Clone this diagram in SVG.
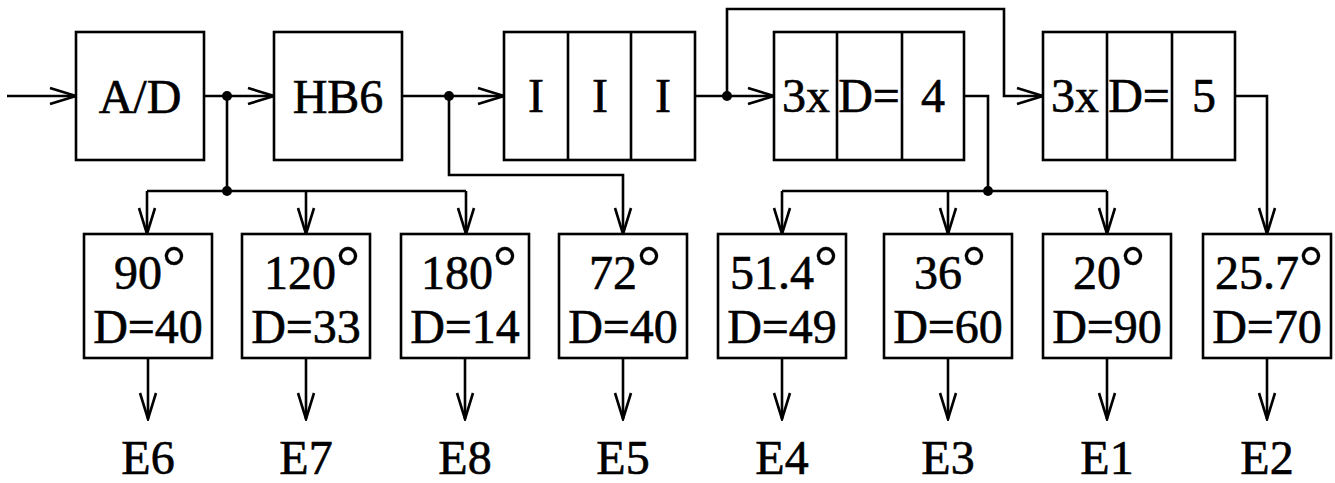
<svg xmlns="http://www.w3.org/2000/svg" width="1335" height="483" viewBox="0 0 1335 483">
<style>
.box{fill:#fff;stroke:#000;stroke-width:2.6}
.ln{fill:none;stroke:#000;stroke-width:2.6}
.arr{fill:none;stroke:#000;stroke-width:2.6;marker-end:url(#ah)}
.t{font-family:"Liberation Serif","Times New Roman",serif;font-size:48px;fill:#000;stroke:#000;stroke-width:0.6;text-anchor:middle}
.deg{font-size:60px;stroke-width:0.3}
.dot{fill:#000}
</style>
<defs>
<marker id="ah" markerUnits="userSpaceOnUse" markerWidth="30" markerHeight="20" viewBox="-28 -10 30 20" refX="0" refY="0" orient="auto">
<path d="M-26,-8 L0,0 L-26,8" fill="none" stroke="#000" stroke-width="2.6"/>
</marker>
</defs>
<rect width="1335" height="483" fill="#fff"/>
<g id="connectors">
<path class="arr" d="M7,96 H76"/>
<path class="arr" d="M204,96 H274"/>
<path class="ln" d="M227,96 V191"/>
<path class="ln" d="M147,191 H466"/>
<path class="arr" d="M147,191 V234"/>
<path class="arr" d="M306,191 V234"/>
<path class="arr" d="M466,191 V234"/>
<path class="arr" d="M402,96 H504"/>
<path class="arr" d="M449,96 V175 H623 V234"/>
<path class="arr" d="M695,96 H774"/>
<path class="arr" d="M727,96 V9 H1004 V96 H1043"/>
<path class="ln" d="M964,96 H988 V191"/>
<path class="ln" d="M782,191 H1107"/>
<path class="arr" d="M782,191 V234"/>
<path class="arr" d="M948,191 V234"/>
<path class="arr" d="M1107,191 V234"/>
<path class="arr" d="M1235,96 H1267 V234"/>
<path class="arr" d="M148,358 V419"/>
<path class="arr" d="M306,358 V419"/>
<path class="arr" d="M465,358 V419"/>
<path class="arr" d="M623,358 V419"/>
<path class="arr" d="M782,358 V419"/>
<path class="arr" d="M948,358 V419"/>
<path class="arr" d="M1107,358 V419"/>
<path class="arr" d="M1267,358 V419"/>
<circle class="dot" cx="227" cy="96" r="5"/>
<circle class="dot" cx="227" cy="191" r="5"/>
<circle class="dot" cx="449" cy="96" r="5"/>
<circle class="dot" cx="727" cy="96" r="5"/>
<circle class="dot" cx="988" cy="191" r="5"/>
</g>
<g id="ad"><rect class="box" x="76" y="32" width="128" height="128"/><text class="t" x="140" y="113">A/D</text></g>
<g id="hb6"><rect class="box" x="274" y="32" width="128" height="128"/><text class="t" x="338" y="113">HB6</text></g>
<g id="iii"><rect class="box" x="504" y="32" width="191" height="128"/><path class="ln" d="M568,32 V160 M631,32 V160"/>
<text class="t" x="536" y="112">I</text><text class="t" x="600" y="112">I</text><text class="t" x="663" y="112">I</text></g>
<g id="d4"><rect class="box" x="774" y="32" width="190" height="128"/><path class="ln" d="M837,32 V160 M902,32 V160"/>
<text class="t" x="806" y="112">3x</text><text class="t" x="869" y="112">D=</text><text class="t" x="933" y="112">4</text></g>
<g id="d5"><rect class="box" x="1043" y="32" width="192" height="128"/><path class="ln" d="M1107,32 V160 M1172,32 V160"/>
<text class="t" x="1075" y="112">3x</text><text class="t" x="1139" y="112">D=</text><text class="t" x="1204" y="112">5</text></g>
<g id="b90"><rect class="box" x="84" y="234" width="128" height="124"/><text class="t" x="150" y="289">90<tspan class="deg" dy="-2">°</tspan></text><text class="t" x="148" y="343">D=40</text></g>
<g id="b120"><rect class="box" x="242" y="234" width="128" height="124"/><text class="t" x="312" y="289">120<tspan class="deg" dy="-2">°</tspan></text><text class="t" x="306" y="343">D=33</text></g>
<g id="b180"><rect class="box" x="401" y="234" width="128" height="124"/><text class="t" x="469" y="289">180<tspan class="deg" dy="-2">°</tspan></text><text class="t" x="465" y="343">D=14</text></g>
<g id="b72"><rect class="box" x="559" y="234" width="128" height="124"/><text class="t" x="625" y="289">72<tspan class="deg" dy="-2">°</tspan></text><text class="t" x="623" y="343">D=40</text></g>
<g id="b514"><rect class="box" x="718" y="234" width="128" height="124"/><text class="t" x="784" y="289">51.4<tspan class="deg" dy="-2">°</tspan></text><text class="t" x="782" y="343">D=49</text></g>
<g id="b36"><rect class="box" x="884" y="234" width="128" height="124"/><text class="t" x="950" y="289">36<tspan class="deg" dy="-2">°</tspan></text><text class="t" x="948" y="343">D=60</text></g>
<g id="b20"><rect class="box" x="1043" y="234" width="128" height="124"/><text class="t" x="1109" y="289">20<tspan class="deg" dy="-2">°</tspan></text><text class="t" x="1107" y="343">D=90</text></g>
<g id="b257"><rect class="box" x="1203" y="234" width="128" height="124"/><text class="t" x="1269" y="289">25.7<tspan class="deg" dy="-2">°</tspan></text><text class="t" x="1267" y="343">D=70</text></g>
<g id="outputs">
<text class="t" x="148" y="474">E6</text>
<text class="t" x="306" y="474">E7</text>
<text class="t" x="465" y="474">E8</text>
<text class="t" x="623" y="474">E5</text>
<text class="t" x="782" y="474">E4</text>
<text class="t" x="948" y="474">E3</text>
<text class="t" x="1107" y="474">E1</text>
<text class="t" x="1267" y="474">E2</text>
</g>
</svg>
